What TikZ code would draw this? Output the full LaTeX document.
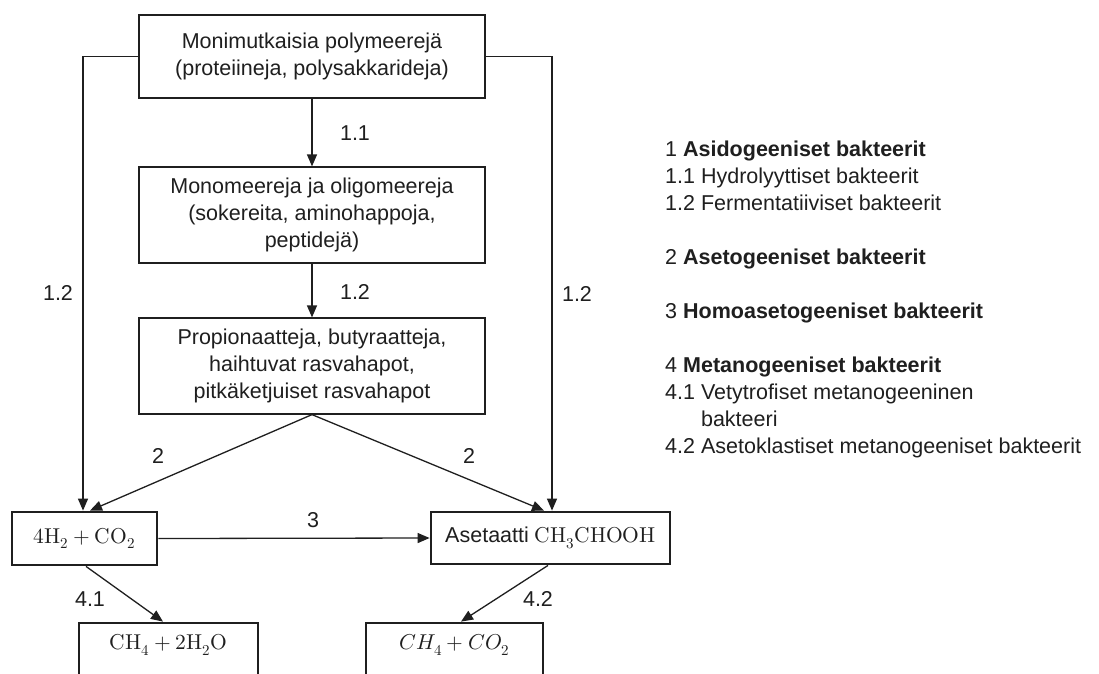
\documentclass[tikz,border=0pt]{standalone}
\usepackage{unicode-math}
\setmainfont{Liberation Sans}
\setmathfont{Latin Modern Math}
\usetikzlibrary{arrows.meta}
\definecolor{ink}{gray}{0.12}
\tikzset{
  thinbox/.style={draw=ink, line width=1.2pt, align=center, inner sep=0pt, text=ink},
  thickbox/.style={draw=ink, line width=2.8pt, align=center, inner sep=0pt, text=ink},
  arr/.style={draw=ink, line width=1.3pt, -{Triangle[length=12pt,width=10pt]}},
  lbl/.style={text=ink, inner sep=0pt},
  leg/.style={text=ink, inner sep=0pt, anchor=base west},
  txt/.style={font=\fontsize{21.5}{27}\selectfont},
}
\begin{document}
\begin{tikzpicture}[x=1pt,y=-1pt,txt]
\useasboundingbox (0,0) rectangle (1099,673);
\fill[white] (0,0) rectangle (1099,673);
\clip (0,0) rectangle (1099,673);
% boxes
\node[thinbox, minimum width=346, minimum height=83] (b1) at (312,56.5)
  {Monimutkaisia polymeerejä\\(proteiineja, polysakkarideja)};
\node[thinbox, minimum width=346, minimum height=96] (b2) at (312,215)
  {Monomeereja ja oligomeereja\\(sokereita, aminohappoja,\\peptidejä)};
\node[thinbox, minimum width=346, minimum height=96] (b3) at (312,366)
  {Propionaatteja, butyraatteja,\\haihtuvat rasvahapot,\\pitkäketjuiset rasvahapot};
\node[thickbox, minimum width=145, minimum height=53] (h2) at (84.5,538.5)
  {$4\symup{H}_2 + \symup{CO}_2$};
\node[thickbox, minimum width=239, minimum height=52] (ac) at (550.5,538)
  {Asetaatti $\symup{CH}_3\symup{CHOOH}$};
\node[thickbox, minimum width=179, minimum height=60] (m1) at (168.5,653) {};
\node[lbl] (m1t) at ([yshift=8pt]m1.center) {$\symup{CH}_4 + 2\symup{H}_2\symup{O}$};
\node[thickbox, minimum width=177, minimum height=60] (m2) at (454.5,653) {};
\node[lbl] (m2t) at ([yshift=8pt]m2.center) {$CH_4 + CO_2$};
% connectors
\draw[arr] (b1) -- (b2);
\draw[arr] (b2) -- (b3);
\draw[arr] (b1.west) -| ([xshift=-1.5pt]h2.north);
\draw[arr] (b1.east) -| ([xshift=1.5pt]ac.north);
\draw[arr] (b3.south) -- ([xshift=5.5pt]h2.north);
\draw[arr] (b3.south) -- ([xshift=-6.5pt]ac.north);
\draw[arr] (h2.east) -- (ac.west);
\draw[arr] ([xshift=1.5pt]h2.south) -- ([xshift=-5.5pt]m1.north);
\draw[arr] ([xshift=-2.5pt]ac.south) -- ([xshift=6.5pt]m2.north);
% labels
\node[lbl] (l11) at (355,133) {1.1};
\node[lbl] (l12m) at (355,292) {1.2};
\node[lbl] (l12l) at (58,293) {1.2};
\node[lbl] (l12r) at (577,294) {1.2};
\node[lbl] (l2l) at (158,456) {2};
\node[lbl] (l2r) at (469,456) {2};
\node[lbl] (l3) at (313,520) {3};
\node[lbl] (l41) at (90,599) {4.1};
\node[lbl] (l42) at (538,599) {4.2};
% legend
\node[leg] (g1)  at (665,156) {1 \textbf{Asidogeeniset bakteerit}};
\node[leg] (g11) at (665,183) {1.1 Hydrolyyttiset bakteerit};
\node[leg] (g12) at (665,210) {1.2 Fermentatiiviset bakteerit};
\node[leg] (g2)  at (665,264) {2 \textbf{Asetogeeniset bakteerit}};
\node[leg] (g3)  at (665,318) {3 \textbf{Homoasetogeeniset bakteerit}};
\node[leg] (g4)  at (665,372) {4 \textbf{Metanogeeniset bakteerit}};
\node[leg] (g41) at (665,399) {4.1 Vetytrofiset metanogeeninen};
\node[leg] (g41b) at (665,426) {\hphantom{4.1 }bakteeri};
\node[leg] (g42) at (665,453) {4.2 Asetoklastiset metanogeeniset bakteerit};
\end{tikzpicture}
\end{document}
